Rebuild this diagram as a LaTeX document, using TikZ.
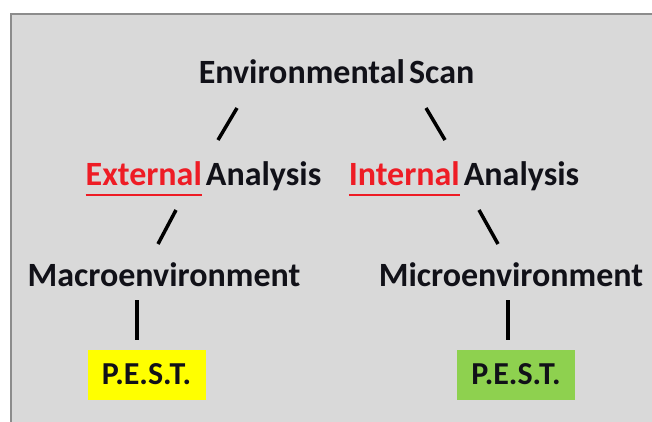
\documentclass[tikz,border=0pt]{standalone}
\usepackage{fontspec}
\setmainfont{Carlito}
\definecolor{boxgray}{HTML}{D9D9D9}
\definecolor{bordergray}{HTML}{8C8C8C}
\definecolor{pestyellow}{HTML}{FFFF00}
\definecolor{pestgreen}{HTML}{8ED14F}
\definecolor{ulred}{HTML}{EE1C25}
\definecolor{txt}{HTML}{111118}
\newcommand{\redword}[1]{{\color{ulred}\setbox0\hbox{#1}\rlap{\rule[-11pt]{\wd0}{2pt}}\box0}}
\newcommand{\nsp}{\hspace{0.12em}}
\begin{document}
\begin{tikzpicture}[x=1pt,y=-1pt,
  lbl/.style={font=\fontsize{34}{40}\selectfont\bfseries, text=txt, inner sep=0pt, anchor=base},
  pestbox/.style={font=\fontsize{32}{38}\selectfont\bfseries, text=txt, inner sep=0pt,
    minimum width=118pt, minimum height=50pt},
  conn/.style={line width=3.5pt, draw=black}]
\useasboundingbox (0,0) rectangle (652,421);
\fill[white] (0,0) rectangle (652,421);
\draw[draw=bordergray, fill=boxgray, line width=2pt] (11,14) rectangle (672,440);

\node[lbl] (es) at (336.5,83) {Environmental\nsp Scan};
\node[lbl] (ext) at (203.5,185) {\redword{External}\nsp Analysis};
\node[lbl] (int) at (464,185) {\redword{Internal}\nsp Analysis};
\node[lbl] (mac) at (164,286) {Macroenvironment};
\node[lbl] (mic) at (511,286) {Microenvironment};
\node[pestbox, fill=pestyellow] (p1) at (146.5,374.5) {P.E.S.T.};
\node[pestbox, fill=pestgreen] (p2) at (516,374.5) {P.E.S.T.};

\coordinate (a1) at (237,108); \coordinate (a2) at (218,140);
\coordinate (b1) at (426,108); \coordinate (b2) at (445,140);
\coordinate (c1) at (176,210); \coordinate (c2) at (158,244);
\coordinate (d1) at (479,210); \coordinate (d2) at (498,244);
\coordinate (e1) at (137,300); \coordinate (e2) at (137,340);
\coordinate (f1) at (508,300); \coordinate (f2) at (508,340);
\draw[conn] (a1) -- (a2);
\draw[conn] (b1) -- (b2);
\draw[conn] (c1) -- (c2);
\draw[conn] (d1) -- (d2);
\draw[conn] (e1) -- (e2);
\draw[conn] (f1) -- (f2);
\end{tikzpicture}
\end{document}
